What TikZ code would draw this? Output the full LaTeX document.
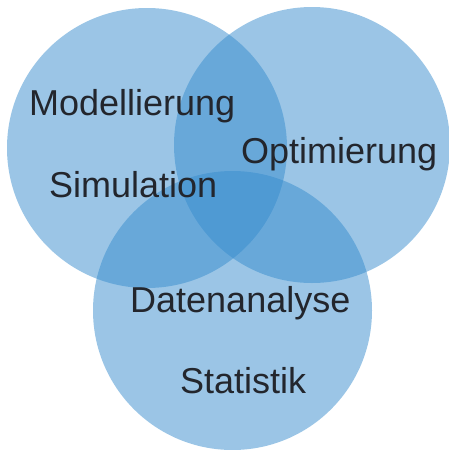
\documentclass[tikz,border=0pt]{standalone}
\usepackage{fontspec}
\setmainfont{Liberation Sans}
\usepackage{tikz}

\definecolor{ringblue}{RGB}{55,140,205}
\definecolor{labelgray}{RGB}{35,38,45}

\begin{document}
\begin{tikzpicture}[x = 1pt, y = -1pt,
                    ring/.style = {circle, draw = none, fill = ringblue, fill opacity = 0.5, inner sep = 0pt},
                    word/.style = {anchor = base west, inner sep = 0pt, text = labelgray,
                                   font = \fontsize{36}{40}\selectfont}]
  \useasboundingbox (0, 0) rectangle (449, 450);
  \node [ring, minimum size = 280pt] (left) at (147, 148){};
  \node [ring, minimum size = 276pt] (right) at (312, 145){};
  \node [ring, minimum size = 279pt] (bottom) at (232.5, 310.5){};
  \node [word] (modell) at (29, 115){Modellierung};
  \node [word] (optim) at (241, 163){Optimierung};
  \node [word] (simul) at (49, 197){Simulation};
  \node [word] (daten) at (130, 312){Datenanalyse};
  \node [word] (stat) at (180, 393){Statistik};
\end{tikzpicture}
\end{document}
